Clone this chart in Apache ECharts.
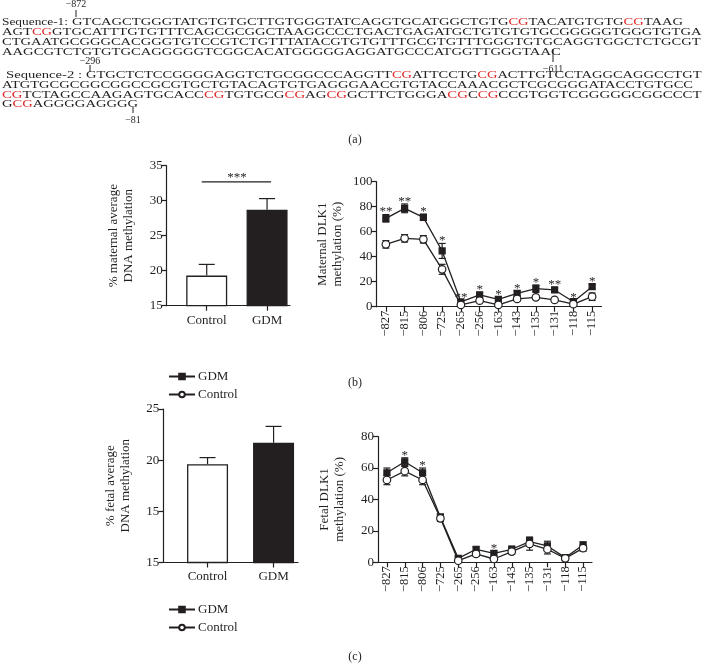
<!DOCTYPE html>
<html><head><meta charset="utf-8">
<script src="https://cdn.jsdelivr.net/npm/echarts@6/dist/echarts.min.js"></script>
<style>html,body{margin:0;padding:0;background:#fff}#c{width:709px;height:667px}</style>
</head><body><div id="c"></div>
<script>
// ---------------- data ----------------
const sequence1 = [
  'GTCAGCTGGGTATGTGTGCTTGTGGGTATCAGGTGCATGGCTGTG[CG]TACATGTGTG[CG]TAAG',
  'AGT[CG]GTGCATTTGTGTTTCAGCGCGGCTAAGGCCCTGACTGAGATGCTGTGTGTGCGGGGGTGGGTGTGA',
  'CTGAATGCGGGCACGGGTGTCCGTCTGTTTATACGTGTGTTTGCGTGTTTGGGTGTGCAGGTGGCTCTGCGT',
  'AAGCGTCTGTGTGCAGGGGGTCGGCACATGGGGGAGGATGCCCATGGTTGGGTAAC'
];
const sequence2 = [
  'GTGCTCTCCGGGGAGGTCTGCGGCCCAGGTT[CG]ATTCCTG[CG]ACTTGTCCTAGGCAGGCCTGT',
  'ATGTGCGCGGCGGCCGCGTGCTGTACAGTGTGAGGGAACGTGTACCAAACGCTCGCGGGATACCTGTGCC',
  '[CG]TCTAGCCAAGAGTGCACC[CG]TGTGCG[CG]AG[CG]GCTTCTGGGA[CG]C[CG]CCGTGGTCGGGGGCGGCCCT',
  'G[CG]AGGGGAGGGG'
];
const sequenceLabels = ['Sequence-1:', 'Sequence-2 :'];
const positionMarks = ['−872', '−611', '−296', '−81'];
const panelLabels = ['(a)', '(b)', '(c)'];

const barCategories = ['Control', 'GDM'];
const maternalBarValues = [19.3, 28.7];
const maternalBarErrors = [1.6, 1.6];
const maternalBarSig = '***';
const maternalBarSigLevel = 32.7;
const fetalBarValues = [19.6, 21.7];
const fetalBarErrors = [0.65, 1.6];
const fetalBarTickLabels = ['15', '15', '20', '25']; // printed as in source

const cpgSites = ['−827','−815','−806','−725','−265','−256','−163','−143','−135','−131','−118','−115'];
const maternalGDM      = [70.7, 78.7, 71.5, 44.6, 3.8, 9.4, 5.9, 10.7, 14.4, 13.4, 4.0, 16.0];
const maternalGDMErr   = [3, 3.5, 2.5, 6, 1.5, 2, 2, 2, 3, 2, 1.5, 2];
const maternalCtrl     = [49.9, 54.7, 53.9, 29.9, 1.4, 4.8, 1.4, 6.2, 7.5, 5.4, 2.0, 8.0];
const maternalCtrlErr  = [3, 3, 3, 4, 1, 1.5, 1, 1.5, 1.5, 1.5, 1, 3];
const maternalSig      = ['**','**','*','*','**','*','*','*','*','**','*','*'];
const fetalGDM         = [57, 64, 57, 28.7, 2.5, 8.3, 5.7, 8.3, 13.1, 10.4, 3.0, 11.0];
const fetalGDMErr      = [3, 2.5, 3, 2, 1, 1.5, 1.5, 2, 3, 3, 1, 2];
const fetalCtrl        = [52.4, 58, 52.4, 28, 1.0, 5.3, 2.1, 6.8, 11.7, 8.3, 2.5, 9.0];
const fetalCtrlErr     = [3, 3, 3, 2, 1, 1.5, 1, 1.5, 4, 3, 1, 2];
const fetalSig         = ['', '*', '*', '', '', '', '*', '', '', '', '', ''];

// ---------------- styling ----------------
const FONT = '"Liberation Serif", "Times New Roman", serif';
const INK = '#231f20';
const RED = '#e02a2a';
const barFills = ['#ffffff', INK];

const chart = echarts.init(document.getElementById('c'), null, {renderer: 'canvas'});

const mctx = document.createElement('canvas').getContext('2d');
function measure(str, size) { mctx.font = size + 'px ' + FONT; return mctx.measureText(str).width; }
function toRich(s) { return s.replace(/\[CG\]/g, '{r|CG}'); }
function plain(s) { return s.replace(/\[|\]/g, ''); }

const graphics = [];
function seqText(str, x0, x1, yc) {
  const w = measure(plain(str), 10);
  graphics.push({
    type: 'text', x: x0, y: yc, scaleX: (x1 - x0) / w, silent: true,
    style: {text: toRich(str), x: 0, y: 0, font: '10px ' + FONT, fill: INK,
      verticalAlign: 'middle', align: 'left', rich: {r: {fill: RED, font: '10px ' + FONT}}}
  });
}
function plainText(str, x0, x1, yc) {
  const w = measure(str, 10);
  graphics.push({type: 'text', x: x0, y: yc, scaleX: (x1 - x0) / w, silent: true,
    style: {text: str, x: 0, y: 0, font: '10px ' + FONT, fill: INK, verticalAlign: 'middle'}});
}
function mark(str, x, yText, yl1, yl2) {
  graphics.push({type: 'text', x: x, y: yText, silent: true,
    style: {text: str, font: '10px ' + FONT, fill: INK, align: 'center', verticalAlign: 'middle'}});
  graphics.push({type: 'line', silent: true, shape: {x1: x, y1: yl1, x2: x, y2: yl2}, style: {stroke: INK, lineWidth: 1}});
}
plainText(sequenceLabels[0], 2, 68, 22.7);
const s1Rows = [[72, 683, 22.7], [2, 701.5, 32.3], [2, 700.5, 42.3], [2, 560.7, 52]];
sequence1.forEach((s, i) => seqText(s, s1Rows[i][0], s1Rows[i][1], s1Rows[i][2]));
plainText(sequenceLabels[1], 6, 82, 75.7);
const s2Rows = [[86, 701.5, 75.7], [2, 693, 85.3], [2, 701.5, 95], [2, 138, 104.3]];
sequence2.forEach((s, i) => seqText(s, s2Rows[i][0], s2Rows[i][1], s2Rows[i][2]));
mark(positionMarks[0], 76, 4, 10, 17);
mark(positionMarks[1], 553, 69, 49, 62);
mark(positionMarks[2], 90, 61, 65, 72);
mark(positionMarks[3], 133, 120, 107, 113);
[[355, 140], [355, 383], [355, 657]].forEach((p, i) => graphics.push({
  type: 'text', x: p[0], y: p[1], silent: true,
  style: {text: panelLabels[i], font: '12px ' + FONT, fill: INK, align: 'center', verticalAlign: 'middle'}}));

// ---------------- helpers ----------------
const axisLineStyle = {show: true, onZero: false, lineStyle: {color: INK, width: 1.2}};
const labelStyle = {color: INK, fontFamily: FONT, fontSize: 13};
function valueY(grid, min, max, interval, name, nameGap, extra) {
  return Object.assign({
    type: 'value', gridIndex: grid, min, max, interval,
    name, nameLocation: 'middle', nameGap, nameRotate: 90,
    nameTextStyle: {color: INK, fontFamily: FONT, fontSize: 13, lineHeight: 15},
    axisLine: axisLineStyle, axisTick: {show: true, length: 5, lineStyle: {color: INK, width: 1.2}},
    axisLabel: Object.assign({margin: 4}, labelStyle), splitLine: {show: false}
  }, extra || {});
}
function barX(grid, min, max) {
  return {
    type: 'value', gridIndex: grid, min, max,
    axisLine: axisLineStyle,
    axisTick: {show: true, length: 5, customValues: barCategories.map((c, i) => i), lineStyle: {color: INK, width: 1.2}},
    axisLabel: Object.assign({margin: 8, customValues: barCategories.map((c, i) => i),
      formatter: v => barCategories[Math.round(v)]}, labelStyle),
    splitLine: {show: false}
  };
}
function catX(grid) {
  return {
    type: 'category', gridIndex: grid, data: cpgSites, boundaryGap: true,
    axisLine: axisLineStyle,
    axisTick: {show: true, alignWithLabel: true, length: 5, lineStyle: {color: INK, width: 1.2}},
    axisLabel: Object.assign({rotate: 90, margin: 4, interval: 0}, labelStyle, {fontSize: 12.5})
  };
}
function errorBars(xi, yi, values, errs, cap, upOnly) {
  return {
    type: 'custom', xAxisIndex: xi, yAxisIndex: yi, z: 1, silent: true, clip: false,
    data: values.map((v, i) => [i, v, errs[i]]),
    renderItem: (params, api) => {
      const x = api.value(0), v = api.value(1), e = api.value(2);
      const top = api.coord([x, v + e]);
      const bot = api.coord([x, upOnly ? v : Math.max(v - e, 0)]);
      const st = {stroke: INK, lineWidth: 1.2};
      const ch = [
        {type: 'line', shape: {x1: top[0], y1: top[1], x2: bot[0], y2: bot[1]}, style: st},
        {type: 'line', shape: {x1: top[0] - cap, y1: top[1], x2: top[0] + cap, y2: top[1]}, style: st}
      ];
      if (!upOnly) ch.push({type: 'line', shape: {x1: bot[0] - cap, y1: bot[1], x2: bot[0] + cap, y2: bot[1]}, style: st});
      return {type: 'group', children: ch};
    }
  };
}
function stars(xi, yi, values, errs, sig) {
  return {
    type: 'custom', xAxisIndex: xi, yAxisIndex: yi, z: 5, silent: true, clip: false,
    data: values.map((v, i) => [i, v, errs[i]]),
    renderItem: (params, api) => {
      const i = api.value(0);
      const p = api.coord([i, api.value(1) + api.value(2)]);
      return {type: 'text', x: p[0], y: p[1] + 4,
        style: {text: sig[i], font: '13px ' + FONT, fill: INK, align: 'center', verticalAlign: 'bottom'}};
    }
  };
}
function lineSeries(name, xi, yi, data, symbol, size, fill) {
  return {
    type: 'line', name, xAxisIndex: xi, yAxisIndex: yi, data, symbol, symbolSize: size, z: 3,
    showAllSymbol: true,
    lineStyle: {color: INK, width: 1.3},
    itemStyle: {color: fill, borderColor: INK, borderWidth: 1.2}
  };
}
function barSeries(xi, yi, values) {
  return {
    type: 'bar', xAxisIndex: xi, yAxisIndex: yi, barWidth: 41, clip: true, z: 2,
    data: values.map((v, i) => ({value: [i, v], itemStyle: {color: barFills[i], borderColor: INK, borderWidth: 1.3}}))
  };
}
const legendBase = {orient: 'vertical', left: 163, itemWidth: 26, itemHeight: 7, itemGap: 5,
  data: ['GDM', 'Control'], textStyle: {color: INK, fontFamily: FONT, fontSize: 13, padding: [0, 0, 0, -2]}, selectedMode: false};

const option = {
  animation: false,
  backgroundColor: '#fff',
  textStyle: {fontFamily: FONT},
  graphic: graphics,
  grid: [
    {left: 166.7, top: 165.7, width: 123.3, height: 140},
    {left: 376.5, top: 181.7, width: 225, height: 125},
    {left: 163.3, top: 409, width: 134.7, height: 153.5},
    {left: 378, top: 436.6, width: 214, height: 125.7}
  ],
  xAxis: [barX(0, -0.663, 1.38), catX(1), barX(2, -0.67, 1.37), catX(3)],
  yAxis: [
    valueY(0, 15, 35, 5, '% maternal average\nDNA methylation', 31),
    valueY(1, 0, 100, 20, 'Maternal DLK1\nmethylation (%)', 31),
    valueY(2, 10, 25, 5, '% fetal average\nDNA methylation', 30,
      {axisLabel: Object.assign({margin: 4, formatter: (v, idx) => fetalBarTickLabels[idx]}, labelStyle)}),
    valueY(3, 0, 80, 20, 'Fetal DLK1\nmethylation (%)', 31)
  ],
  legend: [
    Object.assign({top: 365}, legendBase),
    Object.assign({top: 598}, legendBase)
  ],
  series: [
    barSeries(0, 0, maternalBarValues),
    errorBars(0, 0, maternalBarValues, maternalBarErrors, 8, true),
    {
      type: 'custom', xAxisIndex: 0, yAxisIndex: 0, silent: true, clip: false, z: 5,
      data: [[0, 1, maternalBarSigLevel]],
      renderItem: (params, api) => {
        const a = api.coord([api.value(0), api.value(2)]);
        const b = api.coord([api.value(1), api.value(2)]);
        return {type: 'group', children: [
          {type: 'line', shape: {x1: a[0] - 5, y1: a[1], x2: b[0] + 4, y2: b[1]}, style: {stroke: INK, lineWidth: 1.2}},
          {type: 'text', x: (a[0] + b[0]) / 2, y: a[1] + 2,
           style: {text: maternalBarSig, font: '13px ' + FONT, fill: INK, align: 'center', verticalAlign: 'bottom'}}
        ]};
      }
    },
    barSeries(2, 2, fetalBarValues),
    errorBars(2, 2, fetalBarValues, fetalBarErrors, 8, true),

    errorBars(1, 1, maternalCtrl, maternalCtrlErr, 3.5, false),
    errorBars(1, 1, maternalGDM, maternalGDMErr, 3.5, false),
    lineSeries('GDM', 1, 1, maternalGDM, 'rect', 6, INK),
    lineSeries('Control', 1, 1, maternalCtrl, 'circle', 7.5, '#fff'),
    stars(1, 1, maternalGDM, maternalGDMErr, maternalSig),

    errorBars(3, 3, fetalCtrl, fetalCtrlErr, 3.5, false),
    errorBars(3, 3, fetalGDM, fetalGDMErr, 3.5, false),
    lineSeries('GDM', 3, 3, fetalGDM, 'rect', 6, INK),
    lineSeries('Control', 3, 3, fetalCtrl, 'circle', 7.5, '#fff'),
    stars(3, 3, fetalGDM, fetalGDMErr, fetalSig)
  ]
};
chart.setOption(option);
</script>
</body></html>
